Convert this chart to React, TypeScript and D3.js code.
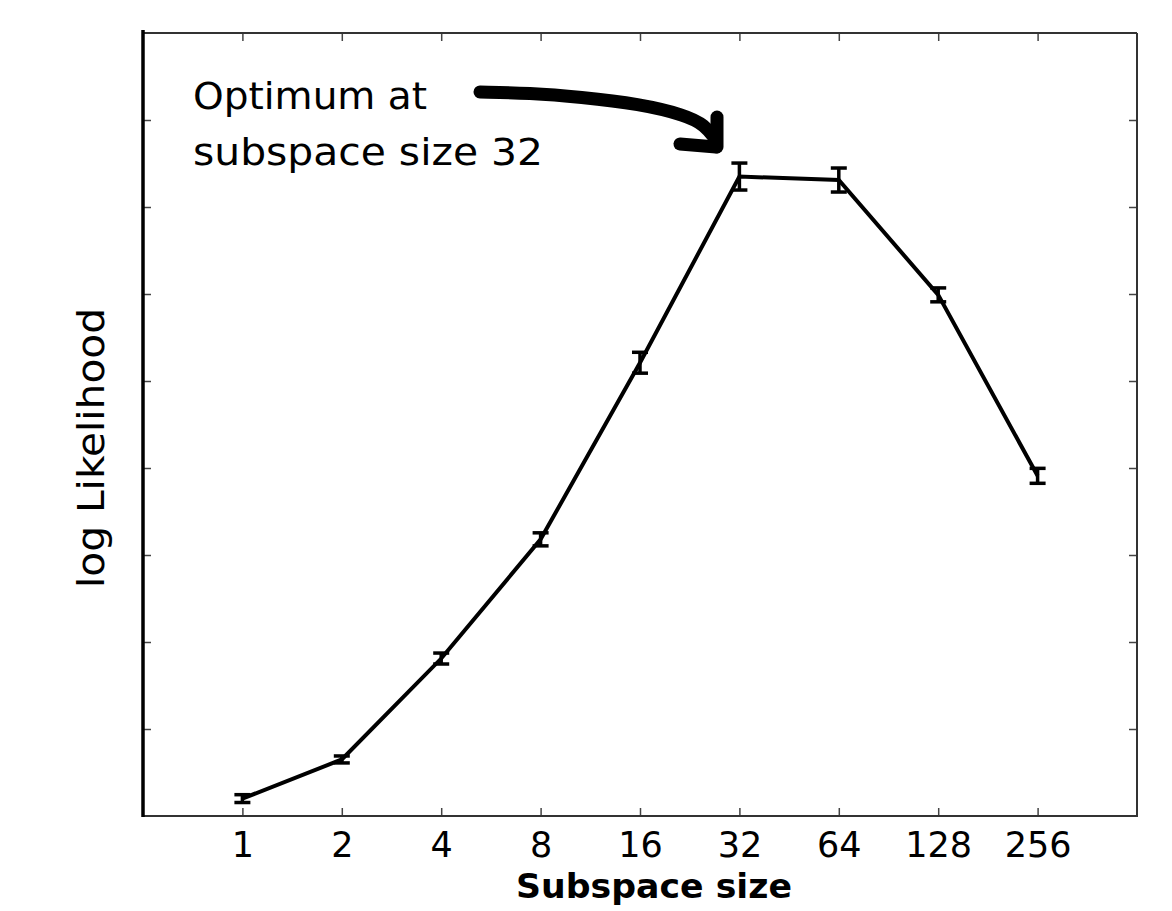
import React, { useEffect, useRef } from 'react';
import * as d3 from 'd3';

const subspaceSizes = [1, 2, 4, 8, 16, 32, 64, 128, 256];
const logLikelihood = [0.2, 0.65, 1.81, 3.18, 5.21, 7.35, 7.31, 5.99, 3.91];
const errorHalf = [0.045, 0.04, 0.063, 0.075, 0.12, 0.155, 0.138, 0.08, 0.086];
const yTickValues = [1, 2, 3, 4, 5, 6, 7, 8];
const annotationLines = ['Optimum at', 'subspace size 32'];
const annotationWidths = [234, 350];

const W = 1172;
const H = 911;
const left = 143, right = 1137, top = 33, bottom = 816;

const App = () => {
  const svgRef = useRef<SVGSVGElement>(null);

  useEffect(() => {
    const svg = d3.select(svgRef.current);
    svg.selectAll('*').remove();

    const x = d3.scaleLog().base(2).domain([0.5, 512]).range([left, right]);
    const y = d3.scaleLinear().domain([0, 9]).range([bottom, top]);

    const font = 'DejaVu Sans, sans-serif';

    // ticks, all pointing inward
    const styleTicks = (g) => {
      g.select('.domain').remove();
      g.selectAll('.tick line').attr('stroke', '#444').attr('stroke-width', 1.5);
    };

    svg.append('g')
      .attr('transform', `translate(0,${bottom})`)
      .call(d3.axisBottom(x).tickValues(subspaceSizes).tickSize(-8).tickPadding(16).tickFormat(d3.format('d')))
      .call(styleTicks)
      .call(g => g.selectAll('text')
        .attr('fill', '#000')
        .attr('font-size', 35)
        .attr('font-family', font));

    svg.append('g')
      .attr('transform', `translate(0,${top})`)
      .call(d3.axisTop(x).tickValues(subspaceSizes).tickSize(-8).tickFormat(() => ''))
      .call(styleTicks);

    svg.append('g')
      .attr('transform', `translate(${left},0)`)
      .call(d3.axisLeft(y).tickValues(yTickValues).tickSize(-8).tickFormat(() => ''))
      .call(styleTicks);

    svg.append('g')
      .attr('transform', `translate(${right},0)`)
      .call(d3.axisRight(y).tickValues(yTickValues).tickSize(-8).tickFormat(() => ''))
      .call(styleTicks);

    // spines
    svg.append('line').attr('x1', left).attr('x2', right).attr('y1', top).attr('y2', top)
      .attr('stroke', '#333').attr('stroke-width', 2);
    svg.append('line').attr('x1', right).attr('x2', right).attr('y1', top).attr('y2', bottom)
      .attr('stroke', '#333').attr('stroke-width', 2);
    svg.append('line').attr('x1', left).attr('x2', right + 1).attr('y1', bottom).attr('y2', bottom)
      .attr('stroke', '#333').attr('stroke-width', 2);
    svg.append('line').attr('x1', left).attr('x2', left).attr('y1', 30).attr('y2', bottom + 1)
      .attr('stroke', '#000').attr('stroke-width', 3.5);

    const pts = subspaceSizes.map((s, i) => ({ s, v: logLikelihood[i], e: errorHalf[i] }));

    const line = d3.line<any>()
      .x(d => x(d.s))
      .y(d => y(d.v));

    svg.append('path')
      .attr('d', line(pts))
      .attr('fill', 'none')
      .attr('stroke', '#000')
      .attr('stroke-width', 4);

    const bars = svg.append('g').attr('stroke', '#000').attr('stroke-width', 3.5);
    pts.forEach(d => {
      const cx = x(d.s);
      bars.append('line').attr('x1', cx).attr('x2', cx).attr('y1', y(d.v - d.e)).attr('y2', y(d.v + d.e));
      bars.append('line').attr('x1', cx - 8).attr('x2', cx + 8).attr('y1', y(d.v - d.e)).attr('y2', y(d.v - d.e));
      bars.append('line').attr('x1', cx - 8).attr('x2', cx + 8).attr('y1', y(d.v + d.e)).attr('y2', y(d.v + d.e));
    });

    // axis labels
    svg.append('text')
      .attr('x', 654)
      .attr('y', 898)
      .attr('text-anchor', 'middle')
      .attr('font-family', font)
      .attr('font-weight', 'bold')
      .attr('font-size', 33)
      .attr('textLength', 276)
      .attr('lengthAdjust', 'spacingAndGlyphs')
      .text('Subspace size');

    svg.append('text')
      .attr('transform', `translate(104,448) rotate(-90)`)
      .attr('text-anchor', 'middle')
      .attr('font-family', font)
      .attr('font-size', 38)
      .attr('textLength', 280)
      .attr('lengthAdjust', 'spacingAndGlyphs')
      .text('log Likelihood');

    // annotation
    annotationLines.forEach((t, i) => {
      svg.append('text')
        .attr('x', 193)
        .attr('y', 109 + i * 56)
        .attr('font-family', font)
        .attr('font-size', 38)
        .attr('textLength', annotationWidths[i])
        .attr('lengthAdjust', 'spacingAndGlyphs')
        .text(t);
    });

    const arrow = svg.append('g')
      .attr('fill', 'none')
      .attr('stroke', '#000')
      .attr('stroke-width', 13)
      .attr('stroke-linecap', 'round')
      .attr('stroke-linejoin', 'round');
    arrow.append('path')
      .attr('d', d3.line().curve(d3.curveBasis)([
        [480, 92], [530, 93], [580, 97], [640, 104], [685, 115], [705, 125], [716, 140],
      ]));
    arrow.append('path').attr('d', 'M717,117 L717,147');
    arrow.append('path').attr('d', 'M680,144 L716,147');
  }, []);

  return (
    <svg
      ref={svgRef}
      width={W}
      height={H}
      style={{ position: 'absolute', left: 0, top: 0, background: '#fff' }}
    />
  );
};

export default App;
